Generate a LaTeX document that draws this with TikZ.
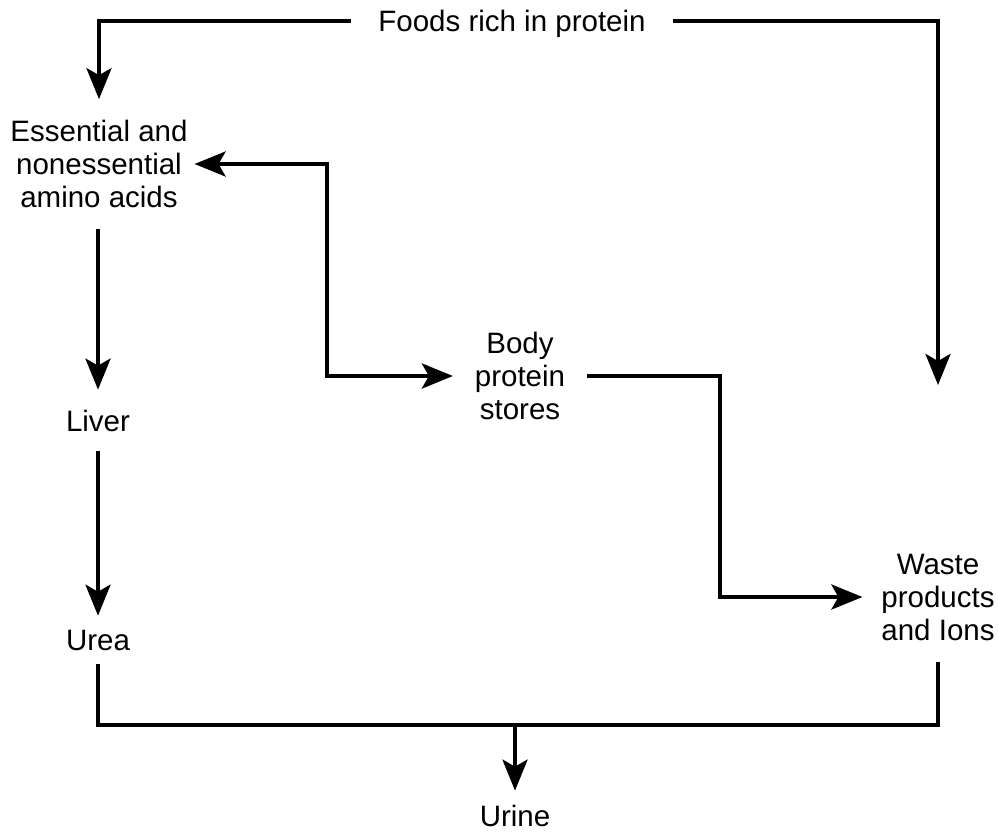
\documentclass[tikz,border=0pt]{standalone}
\usepackage{fontspec}
\setmainfont{Liberation Sans}
\usetikzlibrary{arrows.meta,calc}
\begin{document}
\begin{tikzpicture}[x=1pt,y=1pt,
  lbl/.style={font=\fontsize{29.5}{33}\selectfont, align=center, inner sep=0pt},
  ln/.style={line width=4pt},
  arr/.style={ln, -{Stealth[length=31pt,width=25pt,inset=7pt]}},
  arrtwo/.style={ln, {Stealth[length=31pt,width=25pt,inset=7pt]}-{Stealth[length=31pt,width=25pt,inset=7pt]}}]
\useasboundingbox (0,0) rectangle (998,-833);
\node[lbl, outer xsep=27pt, text height=21pt, text depth=0pt] (foods) at (512,-20.5) {Foods rich in protein};
\node[lbl, outer xsep=7pt, outer ysep=21pt] (ess) at (99,-164) {Essential and\\nonessential\\amino acids};
\node[lbl, outer ysep=20pt, anchor=base] (liver) at (98,-431) {Liver};
\node[lbl, outer ysep=14pt, anchor=base] (urea) at (98,-650) {Urea};
\node[lbl, outer ysep=14pt, anchor=base] (urine) at (515,-826) {Urine};
\node[lbl, outer xsep=22pt] (body) at (520,-376) {Body\\protein\\stores};
\node[lbl, outer xsep=19pt, outer ysep=22pt] (waste) at (938,-597) {Waste\\products\\and Ions};
\coordinate (wtip) at (938,-385);
\coordinate (join) at (515,-725);
\coordinate (k1) at (327,-378);
\coordinate (k2) at (720,-378);

\draw[arr] (foods.west) -| (ess.north);
\draw[arr] (foods.east) -| (wtip);
\draw[arr] (ess.south -| liver.north) -- (liver.north);
\draw[arr] (liver) -- (urea);
\draw[ln] (urea.south) |- (join) -| (waste.south);
\draw[arr] (join) -- (urine);
\draw[arrtwo] (ess.east) -| (k1 |- body.west) -- (body.west);
\draw[arr] (body.east) -| (k2 |- waste.west) -- (waste.west);
\end{tikzpicture}
\end{document}
